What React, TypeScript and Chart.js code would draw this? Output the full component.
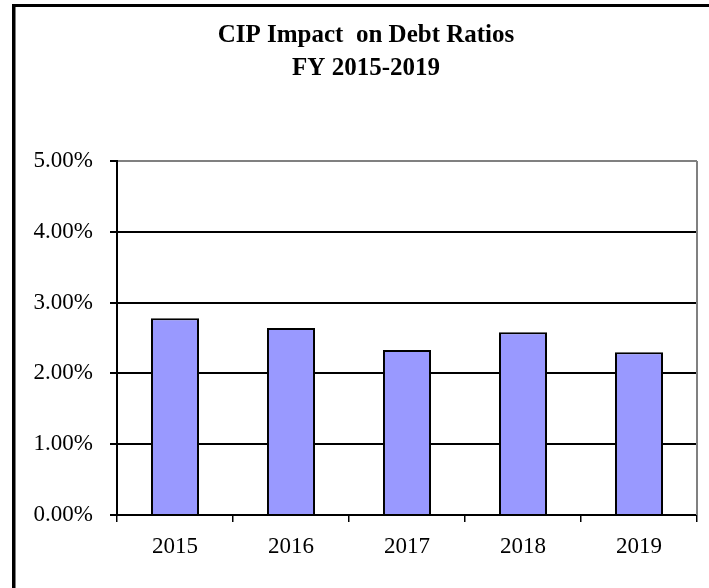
import React, { useEffect, useRef } from "react";
import { Chart, registerables } from "chart.js";

Chart.register(...registerables);

const years: string[] = ["2015", "2016", "2017", "2018", "2019"];
const ratios: number[] = [2.78, 2.64, 2.33, 2.58, 2.3];
const yMin = 0;
const yMax = 5;
const yStep = 1;
const titleLines: string[] = ["CIP Impact  on Debt Ratios", "FY 2015-2019"];

const FONT = "'Liberation Serif', 'Times New Roman', serif";

export default function App() {
  const ref = useRef<HTMLCanvasElement | null>(null);

  useEffect(() => {
    if (!ref.current) return;
    const framePlugin = {
      id: "frameAndTitle",
      afterDraw(chart: any) {
        const ctx = chart.ctx;
        const a = chart.chartArea;
        ctx.save();
        ctx.strokeStyle = "#808080";
        ctx.lineWidth = 2;
        ctx.beginPath();
        ctx.moveTo(a.right, a.top);
        ctx.lineTo(a.right, a.bottom);
        ctx.stroke();
        ctx.fillStyle = "#000";
        ctx.fillRect(12, 4, chart.width - 12, 3);
        ctx.fillRect(12, 4, 3.5, chart.height - 4);
        ctx.font = "bold 25px " + FONT;
        ctx.textAlign = "center";
        ctx.textBaseline = "alphabetic";
        ctx.fillText(titleLines[0], 366, 42);
        ctx.fillText(titleLines[1], 366, 75);
        ctx.restore();
      },
    };

    const chart = new Chart(ref.current, {
      type: "bar",
      data: {
        labels: years,
        datasets: [
          {
            data: ratios,
            backgroundColor: "#9999FF",
            borderColor: "#000",
            borderWidth: 2,
            categoryPercentage: 1,
            barPercentage: 0.414,
          },
        ],
      },
      options: {
        animation: false,
        responsive: false,
        maintainAspectRatio: false,
        devicePixelRatio: 1,
        layout: { padding: { top: 161, right: 12, left: 0, bottom: 0 } },
        plugins: {
          legend: { display: false },
          title: { display: false },
          tooltip: { enabled: false },
        },
        scales: {
          x: {
            offset: true,
            grid: {
              offset: true,
              drawOnChartArea: false,
              drawTicks: true,
              tickLength: 7,
              color: "#000",
              lineWidth: 1.5,
            },
            border: { display: true, color: "#000", width: 2 },
            ticks: {
              color: "#000",
              font: { family: FONT, size: 23 },
              padding: 11,
              maxRotation: 0,
            },
            afterFit: (s: any) => {
              s.height = 73;
            },
          },
          y: {
            min: yMin,
            max: yMax,
            grid: {
              color: (c: any) => (c.tick && c.tick.value === yMax ? "#808080" : "#000"),
              tickColor: "#000",
              lineWidth: 2,
              tickLength: 7,
            },
            border: { display: true, color: "#000", width: 2 },
            ticks: {
              stepSize: yStep,
              color: "#000",
              padding: 17,
              font: { family: FONT, size: 23 },
              callback: (v: any) => Number(v).toFixed(2) + "%",
            },
            afterFit: (s: any) => {
              s.width = 117;
            },
          },
        },
      },
      plugins: [framePlugin],
    });
    return () => chart.destroy();
  }, []);

  return (
    <div style={{ position: "absolute", left: 0, top: 0, width: 709, height: 588, background: "#fff" }}>
      <canvas ref={ref} width={709} height={588} style={{ display: "block", width: 709, height: 588 }} />
    </div>
  );
}
